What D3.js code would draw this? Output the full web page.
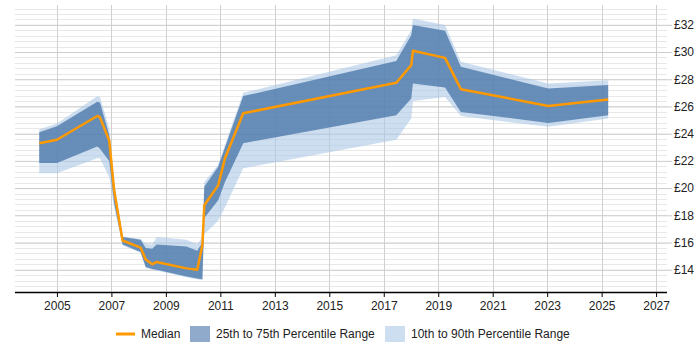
<!DOCTYPE html>
<html>
<head>
<meta charset="utf-8">
<script src="https://cdn.jsdelivr.net/npm/d3@7"></script>
<style>
  body { margin: 0; background: #fff; }
  text { font-family: "Liberation Sans", Arial, sans-serif; }
</style>
</head>
<body>
<div id="chart"></div>
<script>
// data (dates as fractional years)
var dates = [2004.35, 2005.0, 2006.48, 2006.58, 2006.92, 2007.1, 2007.41, 2008.07, 2008.26, 2008.5, 2008.66,
  2009.76, 2010.15, 2010.34, 2010.41, 2010.92, 2011.17, 2011.84, 2017.46, 2018.01, 2018.07, 2019.25,
  2019.83, 2023.04, 2025.24];
var median = [23.3, 23.55, 25.3, 25.2, 23.5, 19.85, 16.15, 15.63, 14.75, 14.4, 14.57,
  14.1, 14.0, 15.8, 18.74, 20.2, 22.2, 25.5, 27.74, 29.04, 30.09, 29.57,
  27.27, 26.04, 26.51];
var p25 = [21.85, 21.85, 23.05, 22.9, 22.0, 18.9, 15.85, 15.3, 14.2, 14.05, 14.0,
  13.5, 13.35, 13.3, 17.8, 19.1, 20.45, 23.3, 25.36, 26.59, 27.69, 27.4,
  25.6, 24.79, 25.36];
var p75 = [24.1, 24.55, 26.35, 26.3, 23.9, 20.2, 16.4, 16.2, 15.6, 15.55, 15.85,
  15.7, 15.4, 16.0, 20.1, 21.56, 23.0, 26.76, 29.35, 31.24, 31.98, 31.56,
  28.91, 27.32, 27.57];
var p10 = [21.1, 21.1, 22.2, 22.2, 20.8, 18.6, 15.8, 15.25, 14.15, 14.0, 13.95,
  13.45, 13.3, 13.25, 16.6, 17.6, 18.6, 21.45, 23.55, 25.12, 26.41, 26.7,
  25.29, 24.5, 25.12];
var p90 = [24.3, 24.75, 26.75, 26.7, 24.4, 20.5, 16.45, 16.25, 15.9, 15.85, 16.4,
  16.2, 15.85, 16.4, 20.45, 21.7, 23.15, 27.0, 29.77, 31.6, 32.47, 31.98,
  29.28, 27.69, 27.93];
var yearTicks = [2005, 2007, 2009, 2011, 2013, 2015, 2017, 2019, 2021, 2023, 2025, 2027];
var priceTicks = [14, 16, 18, 20, 22, 24, 26, 28, 30, 32];
var legendLabels = ['Median', '25th to 75th Percentile Range', '10th to 90th Percentile Range'];

var chart_width = 700;
var chart_height = 350;
var dark_fill = 'rgba(69,114,167,0.75)';
var light_fill = 'rgba(170,200,230,0.6)';

var rows = dates.map(function(d, i) {
  return { t: d, med: median[i], lo25: p25[i], hi75: p75[i], lo10: p10[i], hi90: p90[i] };
});

var svg = d3.select('#chart')
  .append('svg')
  .attr('width', chart_width)
  .attr('height', chart_height);

var x_scale = d3.scaleLinear()
  .domain([2003.46, 2027.4])
  .range([15, 667]);

var y_scale = d3.scaleLinear()
  .domain([12.4, 33.2])
  .range([291.5, 8.5]);

// minor grid every 0.4
var minor = d3.range(12.4, 33.21, 0.4);
svg.append('g')
  .selectAll('line')
  .data(minor)
  .enter()
  .append('line')
  .attr('x1', 15)
  .attr('x2', 667)
  .attr('y1', function(d) { return Math.round(y_scale(d)) + 0.5; })
  .attr('y2', function(d) { return Math.round(y_scale(d)) + 0.5; })
  .attr('stroke', '#e8e8e8');

// vertical grid
svg.append('g')
  .selectAll('line')
  .data(yearTicks)
  .enter()
  .append('line')
  .attr('x1', function(d) { return Math.round(x_scale(d)) + 0.5; })
  .attr('x2', function(d) { return Math.round(x_scale(d)) + 0.5; })
  .attr('y1', 5)
  .attr('y2', 292)
  .attr('stroke', '#d0d0d0');

// major grid + right axis
var y_axis = d3.axisRight(y_scale)
  .tickValues(priceTicks)
  .tickSize(-652 - 5)
  .tickPadding(8)
  .tickFormat(function(d) { return '£' + d; });

svg.append('g')
  .attr('transform', 'translate(672,0)')
  .call(y_axis)
  .call(function(g) {
    g.select('.domain').remove();
    g.selectAll('.tick line').attr('stroke', '#cccccc');
    g.selectAll('.tick text').attr('x', 2).attr('font-size', '12px').attr('fill', '#222');
  });

// bands
var area10 = d3.area()
  .x(function(d) { return x_scale(d.t); })
  .y0(function(d) { return y_scale(d.lo10); })
  .y1(function(d) { return y_scale(d.hi90); });

var area25 = d3.area()
  .x(function(d) { return x_scale(d.t); })
  .y0(function(d) { return y_scale(d.lo25); })
  .y1(function(d) { return y_scale(d.hi75); });

var medLine = d3.line()
  .x(function(d) { return x_scale(d.t); })
  .y(function(d) { return y_scale(d.med); });

svg.append('path')
  .datum(rows)
  .attr('d', area10)
  .attr('fill', light_fill);

svg.append('path')
  .datum(rows)
  .attr('d', area25)
  .attr('fill', dark_fill);

svg.append('path')
  .datum(rows)
  .attr('d', medLine)
  .attr('fill', 'none')
  .attr('stroke', '#ff9900')
  .attr('stroke-width', 2.5)
  .attr('stroke-linejoin', 'round');

// x axis
var x_axis = d3.axisBottom(x_scale)
  .tickValues(yearTicks)
  .tickSize(5)
  .tickPadding(4)
  .tickFormat(d3.format('d'));

svg.append('g')
  .attr('transform', 'translate(0,292)')
  .call(x_axis)
  .call(function(g) {
    g.select('.domain').attr('d', 'M15,0.5H667').attr('stroke', '#000').attr('stroke-width', 1.5);
    g.selectAll('.tick line').attr('stroke', '#000');
    g.selectAll('.tick text').attr('font-size', '12px').attr('fill', '#222');
  });

// legend
var legend = svg.append('g').attr('transform', 'translate(0,334)');

legend.append('line')
  .attr('x1', 116).attr('x2', 135)
  .attr('y1', 0).attr('y2', 0)
  .attr('stroke', '#ff9900')
  .attr('stroke-width', 3);
legend.append('text')
  .attr('x', 141).attr('y', 4)
  .attr('font-size', '12px').attr('fill', '#222')
  .text(legendLabels[0]);

legend.append('rect')
  .attr('x', 190).attr('y', -8)
  .attr('width', 20).attr('height', 16)
  .attr('fill', dark_fill)
  .attr('opacity', 0.8);
legend.append('text')
  .attr('x', 216).attr('y', 4)
  .attr('font-size', '12px').attr('fill', '#222')
  .text(legendLabels[1]);

legend.append('rect')
  .attr('x', 385).attr('y', -8)
  .attr('width', 20).attr('height', 16)
  .attr('fill', light_fill);
legend.append('text')
  .attr('x', 411).attr('y', 4)
  .attr('font-size', '12px').attr('fill', '#222')
  .text(legendLabels[2]);
</script>
</body>
</html>
